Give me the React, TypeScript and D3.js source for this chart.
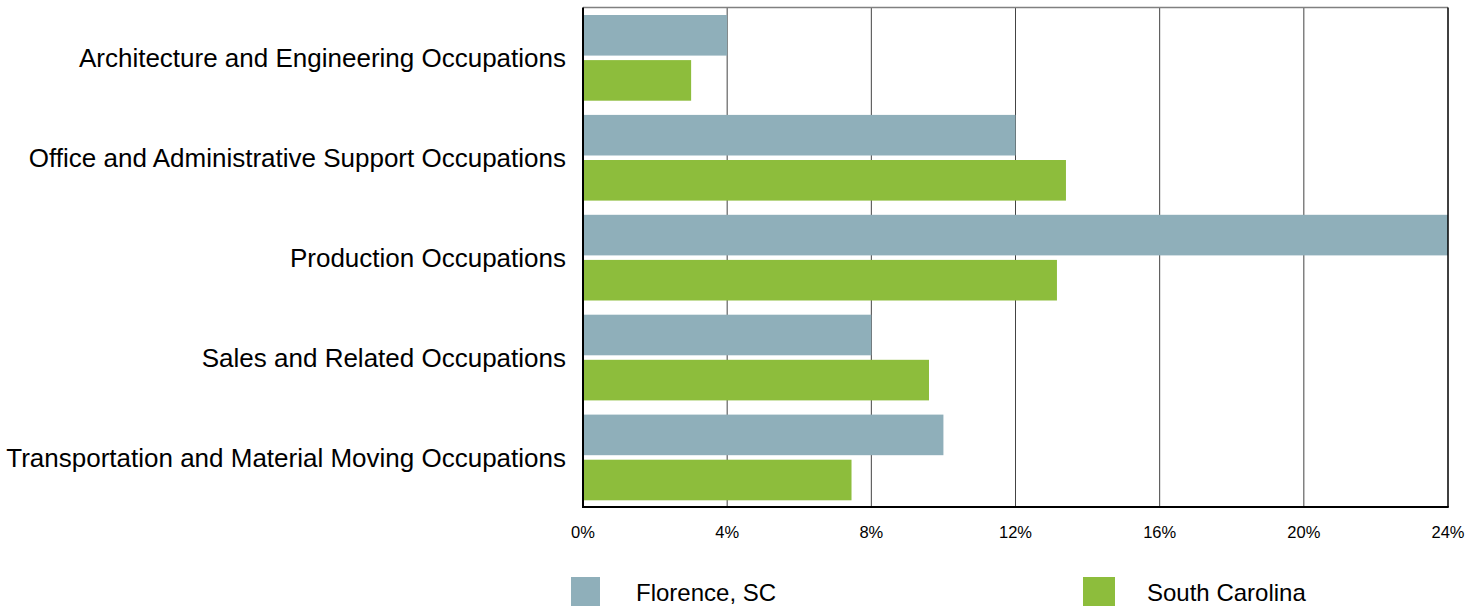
import React from "react";
import * as d3 from "d3";

const categories = [
  "Architecture and Engineering Occupations",
  "Office and Administrative Support Occupations",
  "Production Occupations",
  "Sales and Related Occupations",
  "Transportation and Material Moving Occupations",
];
const seriesNames = ["Florence, SC", "South Carolina"];
const florence = [4.0, 12.0, 24.0, 8.0, 10.0];
const southCarolina = [3.0, 13.4, 13.15, 9.6, 7.45];
const tickValues = [0, 4, 8, 12, 16, 20, 24];
const colors = ["#8FAFBA", "#8DBD3C"];

const W = 1481;
const H = 606;
const FONT = "Arial, 'Liberation Sans', Helvetica, sans-serif";

export default function App() {
  const left = 583;
  const right = 1448;
  const top = 7.5;
  const bottom = 507;

  const x = d3.scaleLinear().domain([0, 24]).range([left, right]);
  const y = d3.scaleBand<string>().domain(categories).range([top, bottom]).padding(0);
  const inner = d3
    .scaleBand<string>()
    .domain(seriesNames)
    .range([7.5, 93.2])
    .paddingInner(0.1);
  const values = [florence, southCarolina];

  return (
    <svg
      width={W}
      height={H}
      style={{ position: "absolute", left: 0, top: 0, display: "block" }}
      fontFamily={FONT}
    >
      <rect x={0} y={0} width={W} height={H} fill="#fff" />
      {/* gridlines */}
      {tickValues.slice(1, -1).map((t) => (
        <line key={t} x1={x(t)} x2={x(t)} y1={top} y2={bottom} stroke="#444" strokeWidth={1} />
      ))}
      {/* bars */}
      {categories.map((c, i) => (
        <g key={c} transform={`translate(0,${y(c)})`}>
          {seriesNames.map((s, j) => (
            <rect
              key={s}
              x={x(0)}
              y={inner(s)}
              width={x(values[j][i]) - x(0)}
              height={inner.bandwidth()}
              fill={colors[j]}
            />
          ))}
        </g>
      ))}
      {/* frame */}
      <line x1={left} x2={right} y1={top} y2={top} stroke="#808080" strokeWidth={1.3} />
      <line x1={right} x2={right} y1={top} y2={bottom} stroke="#000" strokeWidth={1.5} />
      <line x1={left} x2={left} y1={top} y2={bottom + 1} stroke="#000" strokeWidth={2} />
      <line x1={left} x2={right + 0.75} y1={bottom} y2={bottom} stroke="#000" strokeWidth={2} />
      {/* category labels */}
      {categories.map((c) => (
        <text
          key={c}
          x={566}
          y={(y(c) as number) + 59.5}
          textAnchor="end"
          fontSize={26}
          fill="#000"
        >
          {c}
        </text>
      ))}
      {/* tick labels */}
      {tickValues.map((t) => (
        <text key={t} x={x(t)} y={538} textAnchor="middle" fontSize={16.5} fill="#000">
          {t}%
        </text>
      ))}
      {/* legend */}
      <rect x={571} y={577} width={29} height={30} fill={colors[0]} />
      <text x={636} y={601} fontSize={24} fill="#000">
        {seriesNames[0]}
      </text>
      <rect x={1083} y={577} width={32} height={30} fill={colors[1]} />
      <text x={1147} y={601} fontSize={24} fill="#000">
        {seriesNames[1]}
      </text>
    </svg>
  );
}
